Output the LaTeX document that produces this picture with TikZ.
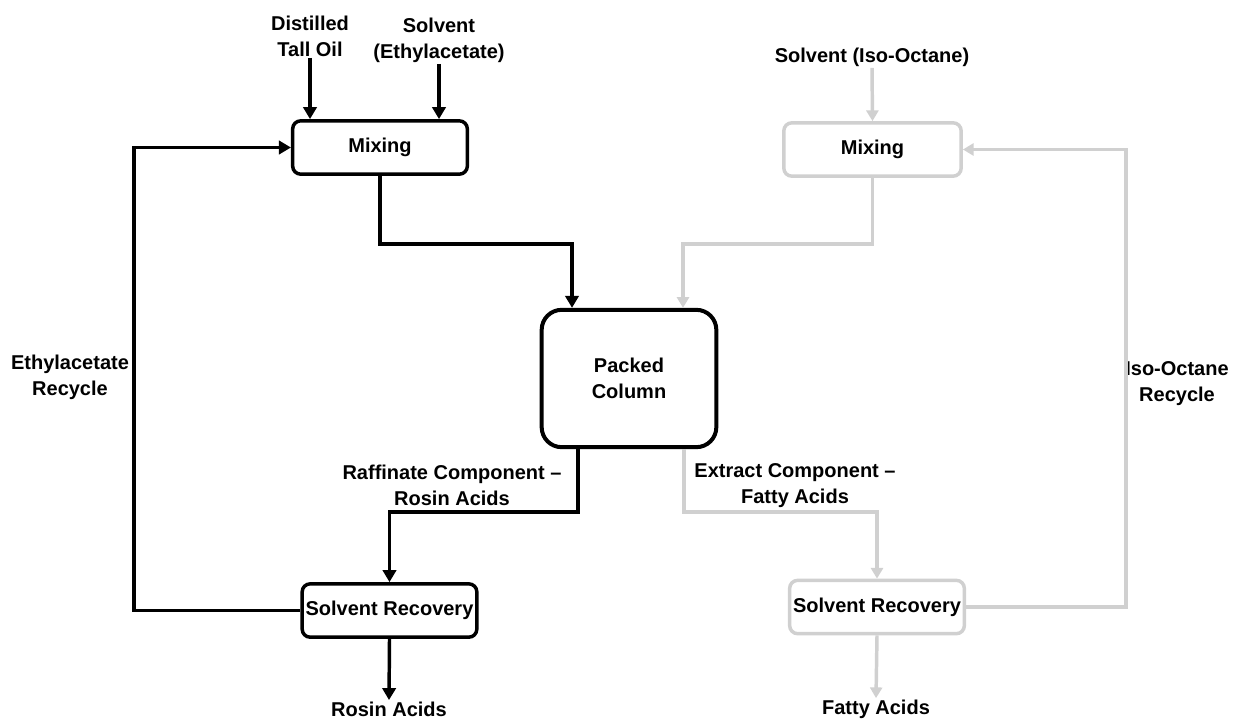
\documentclass[tikz,border=0pt]{standalone}
\usepackage{fontspec}
\setmainfont{Liberation Sans}
\usetikzlibrary{arrows.meta,calc}
\definecolor{lightln}{RGB}{208,208,208}
\begin{document}
\begin{tikzpicture}[x=0.75pt,y=-0.75pt,
  every node/.style={font=\fontsize{15}{19.5}\selectfont\bfseries,align=center,text=black},
  unit/.style={draw,line width=2.6pt,rounded corners=6pt,inner sep=0pt,
    minimum width=131pt,minimum height=40pt},
  darkunit/.style={unit,draw=black},
  lightunit/.style={unit,draw=lightln},
  lbl/.style={inner sep=1pt},
  darkflow/.style={draw=black,line width=2.6pt,-{Triangle[length=9pt,width=10pt]}},
  lightflow/.style={draw=lightln,line width=2.6pt,-{Triangle[length=8pt,width=9pt]}}]
\path[use as bounding box] (0,0) rectangle (1237,721);

% process units
\node[darkunit] (mixL) at (380,147.5) {Mixing};
\node[lightunit,minimum width=133pt] (mixR) at (872.5,149.5) {Mixing};
\node[darkunit,line width=3pt,rounded corners=15pt,minimum width=131pt,minimum height=103pt] (pc) at (629,378.5) {Packed\\Column};
\node[darkunit] (srL) at (389.5,610.5) {Solvent Recovery};
\node[lightunit] (srR) at (877,607) {Solvent Recovery};

% feed and product labels
\node[lbl] (dto) at (310,36) {Distilled\\Tall Oil};
\node[lbl] (solE) at (439,40) {Solvent\\(Ethylacetate)};
\node[lbl] (solI) at (872,57) {Solvent (Iso-Octane)};
\node[lbl] (rosin) at (389,709) {Rosin Acids};
\node[lbl] (fatty) at (876,709) {Fatty Acids};

% stream labels
\node[lbl] at (452,485.5) {Raffinate Component --\\Rosin Acids};
\node[lbl] at (795,485.5) {Extract Component --\\Fatty Acids};
\node[lbl] at (70,377.5) {Ethylacetate\\Recycle};
\node[lbl] at (1177,383.5) {Iso-Octane\\Recycle};

% helper points on the column and recycle loops
\coordinate (pcinL) at ($(pc.north)+(-57,0)$);
\coordinate (pcinR) at ($(pc.north)+(54,0)$);
\coordinate (pcoutL) at ($(pc.south)+(-51,0)$);
\coordinate (pcoutR) at ($(pc.south)+(55,0)$);
\coordinate (recL) at ($(mixL.west)+(-157,0)$);
\coordinate (recR) at ($(mixR.east)+(163,0)$);

% feeds
\draw[darkflow] (dto.south) -- (dto.south |- mixL.north);
\draw[darkflow] (solE.south) -- (solE.south |- mixL.north);
\draw[lightflow] (solI.south) -- (mixR.north);

% mixers to column
\draw[darkflow] (mixL.south) -- ++(0,68) -| (pcinL);
\draw[lightflow] (mixR.south) -- ++(0,66) -| (pcinR);

% column outlets
\draw[darkflow] (pcoutL) -- ++(0,63) -| (srL.north);
\draw[lightflow] (pcoutR) -- ++(0,63) -| (srR.north);

% solvent recycles
\draw[darkflow] (srL.west) -| (recL) -- (mixL.west);
\draw[lightflow] (srR.east) -| (recR) -- (mixR.east);

% products
\draw[darkflow] (srL.south) -- (rosin.north);
\draw[lightflow] (srR.south) -- (fatty.north);
\end{tikzpicture}
\end{document}
